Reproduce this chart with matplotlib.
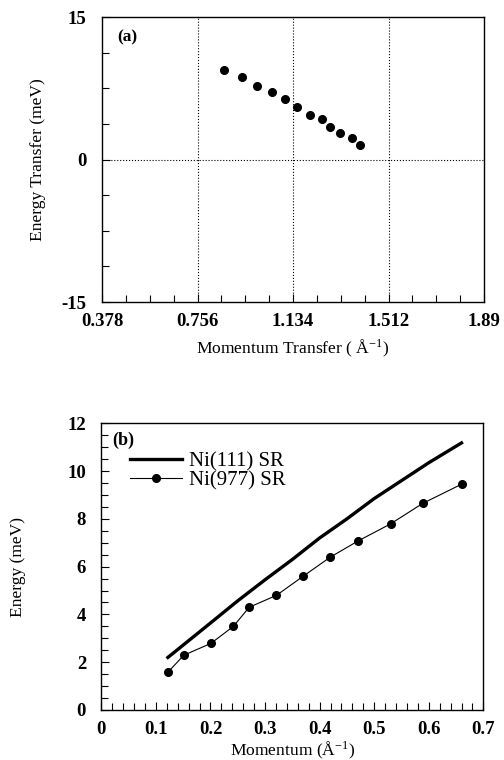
import numpy as np
import matplotlib
matplotlib.use('Agg')
import matplotlib.pyplot as plt
from matplotlib.ticker import MultipleLocator

plt.rcParams['font.family'] = ['Liberation Serif', 'DejaVu Serif']
plt.rcParams['mathtext.default'] = 'regular'

# (a) measured dispersion, momentum transfer vs energy transfer
q_a = [0.862, 0.933, 0.992, 1.051, 1.101, 1.151, 1.200, 1.249, 1.281, 1.319, 1.368, 1.399]
e_a = [9.45, 8.65, 7.77, 7.07, 6.33, 5.56, 4.72, 4.26, 3.46, 2.80, 2.30, 1.56]
xticks_a = [0.378, 0.756, 1.134, 1.512, 1.89]
xtick_labels_a = ['0.378', '0.756', '1.134', '1.512', '1.89']
yticks_a = [-15, 0, 15]
ytick_labels_a = ['-15', '0', '15']

# (b) surface resonance, Ni(111) curve and Ni(977) points
q_111 = [0.122, 0.20, 0.25, 0.30, 0.35, 0.40, 0.45, 0.50, 0.55, 0.60, 0.66]
e_111 = [2.20, 3.64, 4.57, 5.45, 6.30, 7.20, 8.00, 8.85, 9.60, 10.35, 11.18]
q_977 = [0.122, 0.151, 0.201, 0.242, 0.271, 0.321, 0.370, 0.419, 0.470, 0.530, 0.589, 0.660]
e_977 = [1.58, 2.29, 2.79, 3.50, 4.30, 4.80, 5.60, 6.39, 7.07, 7.79, 8.65, 9.45]
xticks_b = [0, 0.1, 0.2, 0.3, 0.4, 0.5, 0.6, 0.7]
xtick_labels_b = ['0', '0.1', '0.2', '0.3', '0.4', '0.5', '0.6', '0.7']
yticks_b = [0, 2, 4, 6, 8, 10, 12]
ytick_labels_b = ['0', '2', '4', '6', '8', '10', '12']

fig = plt.figure(figsize=(5.04, 7.6), dpi=100)

tick_font = dict(fontsize=13.5, fontweight='bold')
label_size = 12.6

# ---- panel (a)
ax1 = fig.add_axes([0.2024, 0.6026, 0.758, 0.375])
ax1.plot(q_a, e_a, 'o', color='black', markersize=5.5)
ax1.set_xlim(0.378, 1.89)
ax1.set_ylim(-15, 15)
ax1.set_xticks(xticks_a)
ax1.set_xticklabels(xtick_labels_a, **tick_font)
ax1.xaxis.set_minor_locator(MultipleLocator(0.0945))
ax1.set_yticks(yticks_a)
ax1.set_yticklabels(ytick_labels_a, **tick_font)
ax1.yaxis.set_minor_locator(MultipleLocator(3.75))
for xv in xticks_a[1:4]:
    ax1.axvline(xv, color='black', linestyle=':', linewidth=0.8)
ax1.axhline(0, color='black', linestyle=':', linewidth=0.8)
ax1.set_xlabel('Momentum Transfer ( Å$^{-1}$)', fontsize=label_size, va='center')
ax1.set_ylabel('Energy Transfer (meV)', fontsize=label_size, va='center')
ax1.xaxis.set_label_coords(0.5, -0.161)
ax1.yaxis.set_label_coords(-0.1675, 0.5)
ax1.text(0.04, 0.93, '(a)', transform=ax1.transAxes, fontsize=12.5,
         fontweight='bold', va='center')

# ---- panel (b)
ax2 = fig.add_axes([0.201, 0.0658, 0.758, 0.3772])
ax2.plot(q_111, e_111, '-', color='black', linewidth=2.4, label='Ni(111) SR')
ax2.plot(q_977, e_977, '-o', color='black', linewidth=0.8, markersize=5.5,
         label='Ni(977) SR')
ax2.set_xlim(0, 0.7)
ax2.set_ylim(0, 12)
ax2.set_xticks(xticks_b)
ax2.set_xticklabels(xtick_labels_b, **tick_font)
ax2.set_yticks(yticks_b)
ax2.set_yticklabels(ytick_labels_b, **tick_font)
ax2.xaxis.set_minor_locator(MultipleLocator(0.02))
ax2.yaxis.set_minor_locator(MultipleLocator(0.5))
ax2.set_xlabel('Momentum (Å$^{-1}$)', fontsize=label_size, va='center')
ax2.set_ylabel('Energy (meV)', fontsize=label_size, va='center')
ax2.xaxis.set_label_coords(0.5, -0.14)
ax2.yaxis.set_label_coords(-0.218, 0.5)
ax2.text(0.028, 0.942, '(b)', transform=ax2.transAxes, fontsize=13,
         fontweight='bold', va='center')
ax2.legend(loc='upper left', bbox_to_anchor=(0.076, 0.90), frameon=False,
           fontsize=15, handlelength=2.5, handletextpad=0.3,
           labelspacing=-0.05, borderpad=0, borderaxespad=0)

for ax in (ax1, ax2):
    ax.tick_params(which='both', direction='in', top=False, right=False,
                   colors='black')
    ax.tick_params(which='major', length=6, width=0.8)
    ax.tick_params(which='minor', length=5, width=0.8)
    ax.tick_params(axis='x', which='major', pad=8)
    ax.tick_params(axis='y', which='major', pad=11)
    for s in ax.spines.values():
        s.set_linewidth(1.0)

fig.savefig('out.png', dpi=100)
